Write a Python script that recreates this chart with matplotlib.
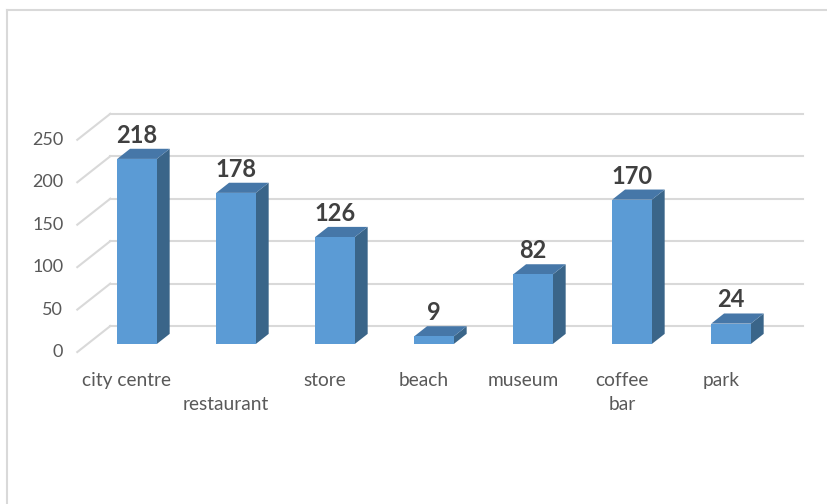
import matplotlib
matplotlib.use("Agg")
import matplotlib.pyplot as plt
from matplotlib.patches import Polygon

# Data
categories = ["city centre", "restaurant", "store", "beach", "museum", "coffee bar", "park"]
tick_labels = ["city centre", "\nrestaurant", "store", "beach", "museum", "coffee\nbar", "park"]
values = [218, 178, 126, 9, 82, 170, 24]
y_ticks = [0, 50, 100, 150, 200, 250]

# Colours
FRONT = "#5B9BD5"
SIDE = "#3A6589"
TOP = "#4677A8"
GRID = "#D9D9D9"
TICK_C = "#595959"
LABEL_C = "#404040"

plt.rcParams['font.family'] = ['Lato', 'DejaVu Sans']

W, H, DPI = 828, 504, 100
PX_X = 99.0      # pixels per category
PX_Y = 0.849     # pixels per value unit
X0, Y0 = 137.0, 344.0   # pixel position of category 0 / value 0 (bar front plane)

# depth of the 3D box (front of floor -> back wall), in data units
DX = 33 / PX_X
DY = 26 / PX_Y
F_FRONT = -0.31   # floor front relative to bar front plane
F_BACK = 0.69     # back wall
F_BAR = 0.39      # bar depth
BAR_W = 0.40

fig = plt.figure(figsize=(W / DPI, H / DPI), dpi=DPI)
ax = fig.add_axes([0, 0, 1, 1])
ax.set_xlim(-X0 / PX_X, (W - X0) / PX_X)
ax.set_ylim((Y0 - H) / PX_Y, Y0 / PX_Y)
ax.axis('off')

n = len(categories)
left, right = -0.5, n - 0.5

# back wall + side wall gridlines
for v in y_ticks:
    bx0 = left + F_BACK * DX
    by = v + F_BACK * DY
    ax.plot([bx0, right + F_BACK * DX], [by, by], color=GRID, lw=1.5, zorder=1)
    fx = left + F_FRONT * DX
    fy = v + F_FRONT * DY
    ax.plot([fx, bx0], [fy, by], color=GRID, lw=1.5, zorder=1)
    ax.annotate(str(v), (fx, fy), xytext=(-14, 0), textcoords='offset pixels',
                ha='right', va='center', fontsize=13, color=TICK_C)

# bars: front faces
xs = list(range(n))
ax.bar(xs, values, width=BAR_W, color=FRONT, zorder=3)

# side and top faces
bdx, bdy = F_BAR * DX, F_BAR * DY
for x, v in zip(xs, values):
    xl, xr = x - BAR_W / 2, x + BAR_W / 2
    ax.add_patch(Polygon([(xr, 0), (xr + bdx, bdy), (xr + bdx, v + bdy), (xr, v)],
                         closed=True, fc=SIDE, ec='none', zorder=2))
    ax.add_patch(Polygon([(xl, v), (xr, v), (xr + bdx, v + bdy), (xl + bdx, v + bdy)],
                         closed=True, fc=TOP, ec='none', zorder=2))
    ax.annotate(str(v), (x, v + bdy), xytext=(0, 6), textcoords='offset pixels',
                ha='center', va='baseline', fontsize=17, fontweight='bold', color=LABEL_C)

# category labels
for x, lab in zip(xs, tick_labels):
    ax.annotate(lab, (x + F_FRONT * DX, F_FRONT * DY), xytext=(0, -20), textcoords='offset pixels',
                ha='center', va='top', fontsize=13.8, color=TICK_C, linespacing=1.5)

# chart border (left and top visible)
fig.add_artist(plt.Line2D([7.5 / W, 7.5 / W], [0, 1 - 10 / H], transform=fig.transFigure, color=GRID, lw=1.5))
fig.add_artist(plt.Line2D([7.5 / W, 1], [1 - 10 / H, 1 - 10 / H], transform=fig.transFigure, color=GRID, lw=1.5))

fig.savefig("out.png", dpi=DPI)
